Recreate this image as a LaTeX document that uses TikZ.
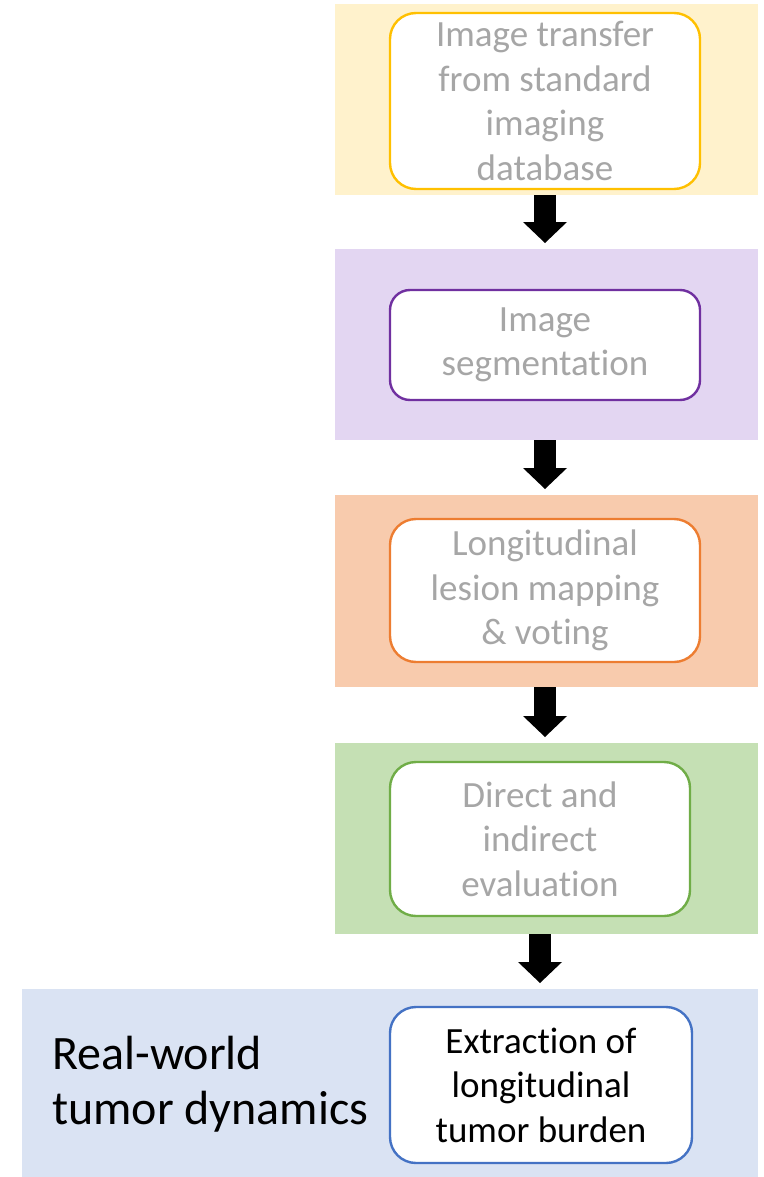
\documentclass[tikz,border=0pt]{standalone}
\usepackage{fontspec}
\setmainfont{Carlito}[Ligatures={NoCommon,NoRare,NoContextual}]
\usepackage{xcolor}
\usetikzlibrary{arrows.meta, positioning, calc}

\definecolor{yelbg}{HTML}{FFF2CC}
\definecolor{yelln}{HTML}{FFC000}
\definecolor{purbg}{HTML}{E3D6F2}
\definecolor{purln}{HTML}{7030A0}
\definecolor{orgbg}{HTML}{F8CBAD}
\definecolor{orgln}{HTML}{ED7D31}
\definecolor{grnbg}{HTML}{C5E0B4}
\definecolor{grnln}{HTML}{70AD47}
\definecolor{blubg}{HTML}{DAE3F3}
\definecolor{bluln}{HTML}{4472C4}
\definecolor{txtgray}{HTML}{A6A6A6}

\tikzset{
  panel/.style={rectangle, inner sep=0pt, anchor=north west, draw=none},
  stage/.style={rectangle, rounded corners=26pt, fill=white, line width=2.4pt,
    align=center, text=txtgray, inner sep=0pt,
    font=\fontsize{37}{44.5}\selectfont},
  blockarrow/.style={line width=22pt,
    -{Triangle[length=21pt 0 1, width=44pt 0 1, line width=0pt]}, shorten >=6pt}
}

\begin{document}
\begin{tikzpicture}[x=1pt, y=-1pt]
\useasboundingbox (0,0) rectangle (763,1177);

% coloured bands
\node[panel, fill=yelbg, minimum width=423pt, minimum height=191pt] (p1) at (335,4) {};
\node[panel, fill=purbg, minimum width=423pt, minimum height=191pt] (p2) at (335,249) {};
\node[panel, fill=orgbg, minimum width=423pt, minimum height=192pt] (p3) at (335,495) {};
\node[panel, fill=grnbg, minimum width=423pt, minimum height=191pt] (p4) at (335,743) {};
\node[panel, fill=blubg, minimum width=736pt, minimum height=188pt] (p5) at (22,989) {};

% steps
\node[stage, draw=yelln, minimum width=310pt, minimum height=176pt] (b1) at (545,101)
  {Image transfer\\from standard\\imaging\\database};
\node[stage, draw=purln, minimum width=310pt, minimum height=110pt, rounded corners=20pt] (b2) at (545,345)
  {Image\\segmentation};
\node[stage, draw=orgln, minimum width=310pt, minimum height=143pt] (b3) at (545,590.5)
  {Longitudinal\\lesion mapping\\\& voting};
\node[stage, draw=grnln, minimum width=300pt, minimum height=154pt] (b4) at (540,839)
  {Direct and\\indirect\\evaluation};
\node[stage, draw=bluln, text=black, minimum width=302pt, minimum height=156pt] (b5) at (541,1085)
  {Extraction of\\longitudinal\\tumor burden};

\node[anchor=west, align=left, inner sep=0pt, font=\fontsize{48}{55}\selectfont] (lbl) at (52,1084)
  {Real-world\\tumor dynamics};

% arrows
\draw[blockarrow] (p1.south -| b1) -- (p2.north -| b1);
\draw[blockarrow] (p2.south -| b2) -- (p3.north -| b2);
\draw[blockarrow] (p3.south -| b3) -- (p4.north -| b3);
\draw[blockarrow] (p4.south -| b4) -- (p5.north -| b4);
\end{tikzpicture}
\end{document}
